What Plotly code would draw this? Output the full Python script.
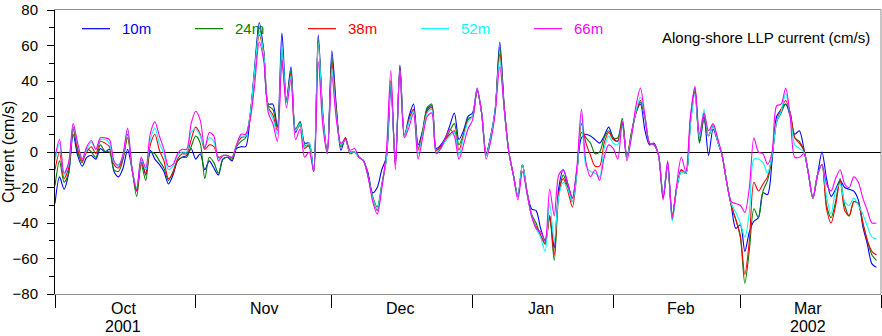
import pandas as pd
import plotly.graph_objects as go

# Daily along-shore low-pass current (cm/s), 1 Oct 2001 - 31 Mar 2002
dates = pd.date_range("2001-10-01", periods=182, freq="D")

depth_labels = ["10m", "24m", "38m", "52m", "66m"]
line_colors = ["#0000ff", "#008000", "#ff0000", "#00ffff", "#ff00ff"]

u_10m = [
    # Oct
    -29, -14, -21, -12, 10, -2, -8, -3, -2, -4, 2, 0, 1.5, -11, -14, -9, 1.5, -10, -22, -4,
    -13, 1, -4, -7, -11, -18, -13, -5, -3, -2, 2,
    # Nov
    -4, -1, -10, -5, -9, -13, -4, -3, -5, 2, 3, 3, 20, 48, 73, 57, 27, 27, 14, 67,
    29, 48, 11, 17, 5, 5, -11, 66, 22, 0,
    # Dec
    57, 25, 1, 8, 0, 0, -3, -5, -12, -23, -20, -10, -3, 37, -7, 49, 9, 20, 27, 4,
    12, 24, 26, 2, 4, 8, 15, 22, 7, 12, 20,
    # Jan
    22, 35, 22, -1, 9, 24, 62, 25, 0, -13, -25, -7, -22, -32, -33, -43, -50, -36, -54, -20,
    -10, -18, -26, -10, 8, 10, 9, 7, 5, 9, 14,
    # Feb
    8, 6, 16, -3, 10, 22, 27, 12, 4, 5, -2, -26, -6, -38, -20, -10, -12, 18, 36, 6,
    20, -2, 13, 6, -2, -17, -30, -43,
    # Mar
    -41, -56, -45, -39, -37, -23, -24, -5, 20, 24, 27, 20, 10, 12, 2, -12, -26, -13, 0, -15,
    -25, -21, -16, -20, -21, -22, -27, -42, -52, -63, -65,
]

u_24m = [
    -19, -5, -17, -12, 13, 0, -6, 2, 0, -3, 4, 0.5, 0, -10, -11, -4, 8, -10, -25, -7,
    -16, 0, -1, -5, -9, -16, -11, -5, -3, -3, 3,
    9, 5, -15, -3, -6, -12, -4, -3, -4, 3, 6, 8, 21, 46, 70, 56, 26, 24, 14, 58,
    29, 46, 13, 17, 4, 3, -11, 63, 20, 0,
    53, 23, 3, 7, 0, 0, -3, -5, -14, -25, -31, -18, -4, 40, -7, 47, 9, 18, 24, 2,
    12, 25, 27, 1, 3, 7, 12, 16, 4, 10, 19,
    20, 35, 22, -1, 8, 24, 59, 24, 0, -13, -25, -7, -23, -35, -40, -47, -51, -37, -61, -24,
    -13, -20, -28, -11, 11, 8, 5, -1, 0, 8, 12,
    8, 8, 19, -3, 11, 22, 28, 19, 5, 4, -2, -25, -8, -36, -20, -11, -12, 16, 34, 5,
    18, 9, 15, 6, -2, -17, -30, -38,
    -48, -74, -55, -32, -37, -22, -16, -3, 17, 22, 27, 22, 8, 6, 1, -12, -26, -13, -7, -30,
    -37, -28, -15, -30, -36, -28, -29, -40, -50, -58, -61,
]

u_38m = [
    -10, 0, -15, -9, 14, 2, -5, 0, 3, -1, 6, 5, 3, -7, -9, -3, 10, -10, -22, -6,
    -12, 4, 10, 1, -5, -15, -12, -4, -1, -1, 7,
    14, 10, 1.5, 4, 3, -3, -2, -2, -3, 4, 8, 9, 21, 45, 66, 55, 25, 21, 12, 52,
    28, 44, 12, 15, 2, 4, -11, 62, 20, 0,
    50, 22, 4, 8, -1, 0, -3, -5, -14, -26, -33, -19, -4, 40, -7, 47, 9, 18, 24, 1,
    11, 23, 25, 1, 3, 7, 10, 12, 1, 9, 18,
    20, 35, 22, -2, 8, 24, 55, 24, 0, -13, -25, -7, -23, -36, -42, -47, -52, -36, -58, -23,
    -15, -22, -31, -12, 16, 5, -2, -8, -8, 5, 11,
    7, 6, 17, -3, 10, 22, 29, 20, 5, 4, -2, -25, -8, -36, -20, -10, -12, 17, 34, 8,
    22, 9, 15, 6, -2, -17, -30, -38,
    -47, -69, -50, -17, -22, -18, -14, -2, 17, 24, 29, 22, 8, 5, 1, -12, -26, -13, -7, -32,
    -40, -30, -16, -33, -36, -28, -29, -40, -50, -56, -58,
]

u_52m = [
    -5, 5, -13, -7, 15, 4, -4, 1.5, 5.5, 1.5, 7, 7, 5, -6, -7, -2, 12.5, -10, -20, -4,
    -10, 7, 13.5, 5, -1, -10, -8, -2, 0, 0, 11,
    13, 9, 3, 8, 6, -4, -2, -2, -3, 4, 9, 9, 21, 46, 68, 55, 24, 19, 10, 59,
    28, 43, 12, 16, 3, 5, -11, 62, 20, -1,
    47, 20, 4, 7, 0, 0, -3, -5, -14, -26, -32, -19, -4, 39, -7, 46, 9, 17, 23, -1,
    10, 22, 24, 0, 2, 6, 9, 11, -2, 8, 17,
    20, 36, 22, -2, 8, 24, 53, 23, 0, -13, -25, -7, -23, -36, -43, -48, -56, -29, -50, -25,
    -17, -21, -28, -12, 22, -8, -11, -12, -14, 2, 9,
    5, 4, 15, -3, 9, 23, 31, 20, 5, 4, -2, -24, -7, -39, -20, -11, -12, 15, 33, 8,
    24, 9, 15, 6, -2, -17, -29, -34,
    -40, -48, -34, -4, -4, -6, -12, -2, 17, 23, 33, 20, 4, 2, 0, -12, -26, -13, -7, -25,
    -35, -22, -18, -28, -30, -26, -30, -35, -42, -48, -49,
]

u_66m = [
    -3, 7, -12, -6, 16, 5, -4, 3, 6.5, 1.5, 8, 8, 7, -5, -8, -1, 13.5, -10, -21, -3,
    -9, 10.5, 17, 9, 1.5, -8, -7, -1, 1.5, 1.5, 16,
    23, 18, 2, 11, 9, -5, -2, -2, -3, 4, 10, 10, 18, 38, 62, 51, 22, 16, 6, 52,
    25, 41, 7, 13, -3, 0, -11, 51, 15, -1,
    43, 18, 5, 7, 1, 2, -3, -5, -14, -28, -35, -21, 0, 46, -10, 46, 8, 14, 22, -4,
    8, 20, 22, -1, 2, 8, 13, 9, -4, 4, 13,
    18, 36, 22, -4, 6, 22, 48, 24, 0, -13, -27, -11, -23, -36, -43, -45, -50, -21, -36, -13,
    -10, -18, -26, -8, 24, -6, -14, -10, -16, -3, 4,
    2, -4, 17, -5, 8, 26, 36, 20, 5, 4, -2, -27, -5, -37, -18, -3, -11, 20, 37, 10,
    22, 12, 16, 8, -2, -17, -28, -29,
    -30, -34, -20, 8, 0, -1, -7, 0, 26, 27, 36, 20, -3, -3, -1, -12, -26, -13, -7, -18,
    -22, -15, -10, -18, -20, -14, -17, -26, -33, -40, -40,
]

series = [u_10m, u_24m, u_38m, u_52m, u_66m]

month_starts = pd.date_range("2001-10-01", "2002-04-01", freq="MS")
month_names = ["Oct", "Nov", "Dec", "Jan", "Feb", "Mar"]
year_names = ["2001", "", "", "", "", "2002"]

FONT = "Liberation Sans, Arial, Helvetica, sans-serif"

# plot-area geometry in pixels (used to place the key and labels)
FIG_W, FIG_H = 882, 336
M_L, M_R, M_T, M_B = 55, 1, 5, 42
PLOT_W = FIG_W - M_L - M_R
PLOT_H = FIG_H - M_T - M_B


def px_to_paper_x(px):
    return (px - M_L) / PLOT_W


def px_to_paper_y(py):
    return 1 - (py - M_T) / PLOT_H


fig = go.Figure()
for label, color, values in zip(depth_labels, line_colors, series):
    fig.add_trace(go.Scatter(
        x=dates, y=values, mode="lines", name=label, showlegend=False,
        line=dict(color=color, width=1.1, shape="spline", smoothing=0.8),
    ))

# key: a short coloured line and coloured depth label for each series
KEY_X0, KEY_STEP, KEY_LEN, KEY_GAP, KEY_Y = 82, 113, 28, 10, 24
for i, (label, color) in enumerate(zip(depth_labels, line_colors)):
    x0 = KEY_X0 + i * KEY_STEP
    fig.add_shape(
        type="line", xref="paper", yref="paper",
        x0=px_to_paper_x(x0), x1=px_to_paper_x(x0 + KEY_LEN),
        y0=px_to_paper_y(KEY_Y), y1=px_to_paper_y(KEY_Y),
        line=dict(color=color, width=1.2),
    )
    fig.add_annotation(
        x=px_to_paper_x(x0 + KEY_LEN + KEY_GAP), xref="paper",
        y=px_to_paper_y(KEY_Y), yref="paper",
        text=label, showarrow=False, xanchor="left", yanchor="middle",
        font=dict(family=FONT, size=15, color=color),
    )

# month names centred in each month under the axis, years beneath
for start, month, year in zip(month_starts[:-1], month_names, year_names):
    mid = start + pd.Timedelta(days=15)
    fig.add_annotation(
        x=mid, xref="x", y=0, yref="paper", yshift=-24,
        text=month, showarrow=False, xanchor="center", yanchor="bottom",
        borderpad=0, font=dict(family=FONT, size=16, color="black"),
    )
    if year:
        fig.add_annotation(
            x=mid, xref="x", y=0, yref="paper", yshift=-42,
            text=year, showarrow=False, xanchor="center", yanchor="bottom",
            borderpad=0, font=dict(family=FONT, size=16, color="black"),
        )

fig.add_annotation(
    x=1, xref="paper", xshift=-9, y=px_to_paper_y(33), yref="paper",
    text="Along-shore LLP current (cm/s)", showarrow=False,
    xanchor="right", yanchor="middle",
    font=dict(family=FONT, size=15, color="black"),
)

fig.add_annotation(
    x=0, xref="paper", xshift=-47, y=0.5, yref="paper",
    text="Current (cm/s)", textangle=-90, showarrow=False,
    xanchor="center", yanchor="middle",
    font=dict(family=FONT, size=16, color="black"),
)

# right-hand frame edge
fig.add_shape(type="line", xref="paper", yref="paper", x0=1, x1=1, y0=0, y1=1,
              line=dict(color="#8c8c8c", width=1))

fig.update_layout(
    width=FIG_W, height=FIG_H,
    margin=dict(l=M_L, r=M_R, t=M_T, b=M_B),
    paper_bgcolor="white", plot_bgcolor="white",
    font=dict(family=FONT, size=15, color="black"),
    showlegend=False,
    xaxis=dict(
        type="date",
        range=[month_starts[0], month_starts[-1]],
        tickmode="array", tickvals=list(month_starts), ticktext=[""] * len(month_starts),
        ticks="outside", ticklen=13, tickcolor="black", tickwidth=1,
        showgrid=False, zeroline=False,
        showline=True, linecolor="#8c8c8c", linewidth=1, mirror=True,
    ),
    yaxis=dict(
        range=[-80, 80],
        tickmode="array", tickvals=list(range(-80, 81, 20)),
        ticks="outside", ticklen=7, tickcolor="black", tickwidth=1,
        minor=dict(tickmode="linear", tick0=0, dtick=10, ticks="outside", ticklen=5,
                   tickcolor="black", tickwidth=1, showgrid=False),
        ticklabelstandoff=6, ticklabeloverflow="allow",
        showgrid=False,
        zeroline=True, zerolinecolor="black", zerolinewidth=1,
        showline=True, linecolor="black", linewidth=1,
        tickfont=dict(family=FONT, size=15),
    ),
)

fig.write_html("out.html")
